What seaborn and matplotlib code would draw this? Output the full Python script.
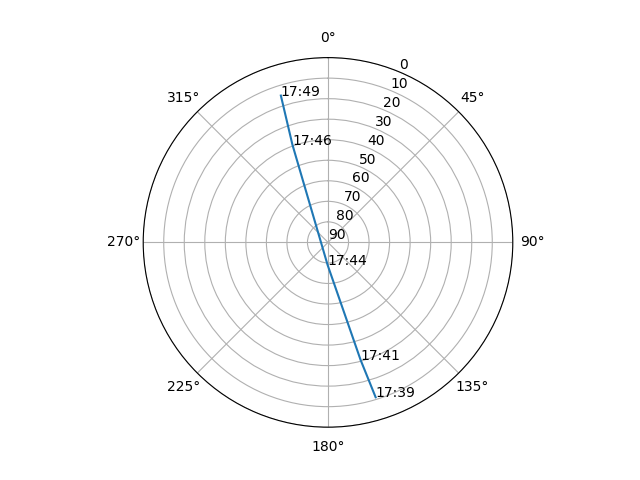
import numpy as np
import matplotlib
matplotlib.use("Agg")
import matplotlib.pyplot as plt
import seaborn as sns

# pasada del satélite: tiempos, azimut (grados) y elevación (grados)
times = ["17:39", "17:41", "17:44", "17:46", "17:49"]
azimuth = [162.9, 164.5, 181.0, 340.0, 342.2]
elevation = [11.1, 30.6, 79.0, 39.3, 14.9]

r_ticks = list(range(0, 91, 10))

fig = plt.figure(figsize=(6.4, 4.8), dpi=100)
ax = fig.add_subplot(111, projection="polar")
ax.set_theta_zero_location("N")
ax.set_theta_direction(-1)

theta = np.radians(azimuth)
sns.lineplot(x=theta, y=elevation, sort=False, ax=ax, color="#1f77b4", estimator=None)

for t, th, el in zip(times, theta, elevation):
    ax.annotate(t, (th, el))

ax.set_rlim(90, 0)
ax.set_yticks(r_ticks)
ax.set_xlabel("")
ax.set_ylabel("")

fig.savefig("out.png", dpi=100)
